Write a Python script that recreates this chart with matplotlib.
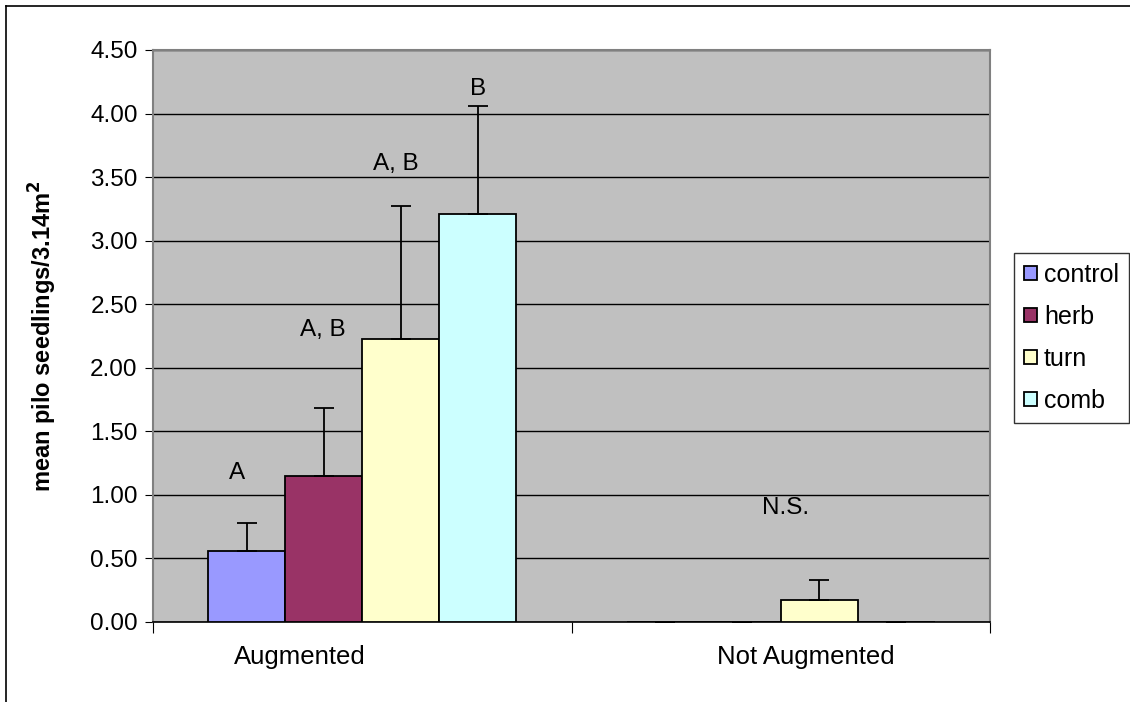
import numpy as np
import matplotlib.pyplot as plt
from matplotlib.lines import Line2D

plt.rcParams["font.family"] = ["Liberation Sans", "DejaVu Sans"]

# ---------------------------------------------------------------------------
# data
# ---------------------------------------------------------------------------
groups = ["Augmented", "Not Augmented"]
treatments = ["control", "herb", "turn", "comb"]
colors = ["#9999FF", "#993366", "#FFFFCC", "#CCFFFF"]

means = {
    "control": [0.56, 0.0],
    "herb": [1.15, 0.0],
    "turn": [2.23, 0.17],
    "comb": [3.21, 0.0],
}
errs = {
    "control": [0.22, 0.0],
    "herb": [0.53, 0.0],
    "turn": [1.04, 0.16],
    "comb": [0.85, 0.0],
}

# significance letters: group index, treatment slot, text, y value
sig_group = [0, 0, 0, 0, 1]
sig_treat = [-0.12, 0.99, 1.93, 3.0, 1.56]
sig_text = ["A", "A, B", "A, B", "B", "N.S."]
sig_y = [1.17, 2.30, 3.60, 4.19, 0.90]

# ---------------------------------------------------------------------------
# figure
# ---------------------------------------------------------------------------
fig = plt.figure(figsize=(11.3, 7.02), dpi=100)
ax = fig.add_axes([153 / 1130, 1 - 622 / 702, (990 - 153) / 1130, (622 - 50) / 702])
ax.set_facecolor("#C0C0C0")

n = len(treatments)
bar_w = 0.184
x = np.arange(len(groups))
offsets = (np.arange(n) - (n - 1) / 2) * bar_w

for i, t in enumerate(treatments):
    ax.bar(x + offsets[i], means[t], width=bar_w, color=colors[i],
           edgecolor="black", linewidth=1.3, zorder=3, label=t)
    ax.errorbar(x + offsets[i], means[t], yerr=[np.zeros(len(groups)), errs[t]],
                fmt="none", ecolor="black", elinewidth=1.3, capsize=7,
                capthick=1.3, zorder=4)

for g, tr, txt, yv in zip(sig_group, sig_treat, sig_text, sig_y):
    ax.text(x[g] + (tr - (n - 1) / 2) * bar_w, yv, txt, ha="center",
            va="center", fontsize=17.5)

ax.set_xlim(-0.5, 1.5)
ax.set_ylim(0, 4.5)
ax.set_yticks(np.arange(0, 4.51, 0.5))
ax.set_yticklabels([f"{v:.2f}" for v in np.arange(0, 4.51, 0.5)], fontsize=17.5)
ax.yaxis.grid(True, color="black", linewidth=1.0, zorder=0)
ax.set_axisbelow(True)

ax.set_xticks([-0.5, 0.5, 1.5])
ax.set_xticklabels([])
ax.tick_params(axis="x", length=8, direction="out", color="black")
ax.tick_params(axis="y", length=6, direction="out", color="black", pad=5)

# category labels (placed where Excel put them)
ax.text(0.176, -0.062, groups[0], transform=ax.transAxes, ha="center",
        va="center", fontsize=18.5)
ax.text(0.780, -0.062, groups[1], transform=ax.transAxes, ha="center",
        va="center", fontsize=18.5)

for side in ["top", "right", "left"]:
    ax.spines[side].set_color("#808080")
    ax.spines[side].set_linewidth(1.5)
ax.spines["bottom"].set_color("black")
ax.spines["bottom"].set_linewidth(1.2)

fig.text(43 / 1130, 1 - 336 / 702, "mean pilo seedlings/3.14m$\\mathbf{^2}$",
         rotation=90, ha="center", va="center", fontsize=17, fontweight="bold")

handles, labels = ax.get_legend_handles_labels()
leg = fig.legend(handles, labels, loc="upper left",
                 bbox_to_anchor=(1014 / 1130, 1 - 253 / 702),
                 fontsize=18, frameon=True, fancybox=False, borderaxespad=0,
                 handlelength=0.5, handleheight=0.5, handletextpad=0.3,
                 labelspacing=0.72, borderpad=0.4)
leg.get_frame().set_edgecolor("black")
leg.get_frame().set_linewidth(1.0)

# outer chart border (top and left edges visible)
fig.add_artist(Line2D([6 / 1130, 1], [1 - 6 / 702, 1 - 6 / 702],
                      transform=fig.transFigure, color="black", linewidth=1.2))
fig.add_artist(Line2D([6 / 1130, 6 / 1130], [0, 1 - 6 / 702],
                      transform=fig.transFigure, color="black", linewidth=1.2))

fig.savefig("out.png", dpi=100)
